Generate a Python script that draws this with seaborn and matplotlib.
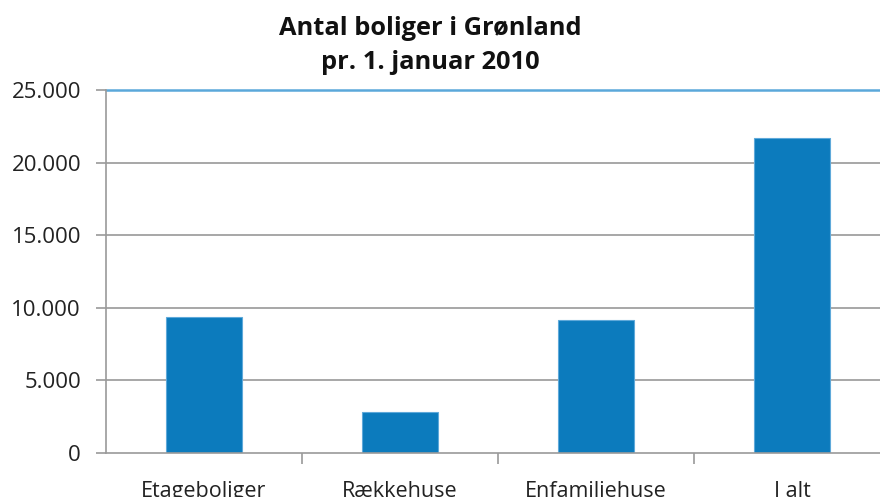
import matplotlib
matplotlib.use("Agg")
import matplotlib.pyplot as plt
import matplotlib.ticker as mticker
import seaborn as sns
import pandas as pd

# Data
categories = ["Etageboliger", "Rækkehuse", "Enfamiliehuse", "I alt"]
boliger = [9400, 2830, 9190, 21690]
title_text = "Antal boliger i Grønland\npr. 1. januar 2010"

df = pd.DataFrame({"type": categories, "antal": boliger})

sns.set_style("white")
plt.rcParams["font.family"] = ["Open Sans", "DejaVu Sans"]

fig = plt.figure(figsize=(8.8, 4.97), dpi=100)
ax = fig.add_axes([106 / 880, 44 / 497, 784 / 880, 363 / 497])

sns.barplot(data=df, x="type", y="antal", color="#0C7BBD", width=0.39,
            saturation=1, edgecolor="#5FA9DA", linewidth=0.8, ax=ax)

ax.set_xlim(-0.5, 3.5)
ax.set_ylim(0, 25000)
ax.yaxis.set_major_locator(mticker.MultipleLocator(5000))
ax.yaxis.set_major_formatter(mticker.FuncFormatter(lambda v, p: f"{int(v):,}".replace(",", ".")))

# gridlines, the top one is the blue plot border in the original
for v in range(5000, 25000, 5000):
    ax.axhline(v, color="#A0A0A0", lw=1.3, zorder=0)
ax.axhline(25000, color="#5BA8DA", lw=1.8, zorder=0, clip_on=False)

for s in ["top", "right"]:
    ax.spines[s].set_visible(False)
for s in ["left", "bottom"]:
    ax.spines[s].set_color("#9A9A9A")
    ax.spines[s].set_linewidth(1.2)

ax.set_xlabel("")
ax.set_ylabel("")
ax.tick_params(axis="y", direction="out", length=7, width=1.2, color="#9A9A9A",
               labelsize=16, labelcolor="#222222", pad=11, left=True)
ax.tick_params(axis="x", which="major", length=0, labelsize=15.5,
               labelcolor="#222222", pad=20)
ax.set_xticks([0.5, 1.5, 2.5], minor=True)
ax.tick_params(axis="x", which="minor", direction="out", length=8, width=1.2,
               color="#9A9A9A", bottom=True)

fig.text(0.489, 0.968, title_text, ha="center", va="top", fontsize=18.3,
         fontweight="bold", color="#111111", linespacing=1.5)

fig.savefig("out.png", dpi=100, facecolor="white")
